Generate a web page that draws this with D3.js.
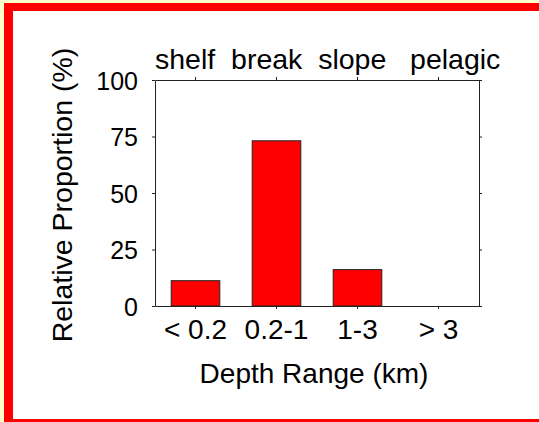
<!DOCTYPE html>
<html><head><meta charset="utf-8">
<script src="https://cdn.jsdelivr.net/npm/d3@7"></script>
<style>
html,body{margin:0;padding:0;background:#ffffcc;overflow:hidden}
svg{display:block}
text{font-family:"Liberation Sans",Arial,sans-serif;fill:#000}
</style></head>
<body>
<script>
const categories = ["< 0.2", "0.2-1", "1-3", "> 3"];
const values = [11.2, 73.1, 16.1, 0];
const yTicks = [0, 25, 50, 75, 100];
const topTitle = "shelf  break  slope   pelagic";
const xTitle = "Depth Range (km)";
const yTitle = "Relative Proportion (%)";

const W = 539, H = 422;
const svg = d3.select("body").append("svg").attr("width", W).attr("height", H);

// frame
svg.append("rect").attr("x", 4).attr("y", 3).attr("width", W + 20).attr("height", H + 20).attr("fill", "#ff0000");
svg.append("rect").attr("x", 13).attr("y", 11).attr("width", W + 20).attr("height", 408).attr("fill", "#ffffff");

const m = {left: 155, right: 479, top: 80, bottom: 306};
const x = d3.scaleBand().domain(categories).range([m.left, m.right]).paddingInner(0.4).paddingOuter(0.2);
const y = d3.scaleLinear().domain([0, 100]).range([m.bottom, m.top]);

// bars
svg.append("g").selectAll("rect").data(values).join("rect")
  .attr("x", (d, i) => x(categories[i]))
  .attr("width", x.bandwidth())
  .attr("y", d => y(d))
  .attr("height", d => y(0) - y(d))
  .attr("fill", d => d > 0 ? "#ff0000" : "none")
  .attr("stroke", d => d > 0 ? "#222" : "none")
  .attr("stroke-width", 1);

// axes
const xb = d3.scaleBand().domain(categories).range([m.left, m.right]);
const gB = svg.append("g").attr("transform", `translate(0,${m.bottom})`)
  .call(d3.axisBottom(xb).tickSize(3).tickSizeOuter(0).tickPadding(10));
gB.selectAll("text").style("font-size", "28px");
const gT = svg.append("g").attr("transform", `translate(0,${m.top})`)
  .call(d3.axisTop(xb).tickSize(3).tickSizeOuter(0).tickFormat(""));
const gL = svg.append("g").attr("transform", `translate(${m.left},0)`)
  .call(d3.axisLeft(y).tickValues(yTicks).tickSize(3).tickSizeOuter(0).tickPadding(14));
gL.selectAll("text").style("font-size", "25px").attr("dy", "0.37em");
const gR = svg.append("g").attr("transform", `translate(${m.right},0)`)
  .call(d3.axisRight(y).tickValues(yTicks).tickSize(3).tickSizeOuter(0).tickFormat(""));
[gB, gT, gL, gR].forEach(g => {
  g.select(".domain").attr("stroke", "#222");
  g.selectAll(".tick line").attr("stroke", "#222");
});

// titles
svg.append("text").attr("x", m.left).attr("y", 69)
  .style("white-space", "pre").attr("xml:space", "preserve")
  .style("font-size", "28.5px").text(topTitle);
svg.append("text").attr("x", (m.left + m.right) / 2 - 3).attr("y", 383)
  .attr("text-anchor", "middle").style("font-size", "28px").text(xTitle);
svg.append("text").attr("transform", `translate(72,${(m.top + m.bottom) / 2 + 2}) rotate(-90)`)
  .attr("text-anchor", "middle").style("font-size", "28.5px").text(yTitle);
</script>
</body></html>
